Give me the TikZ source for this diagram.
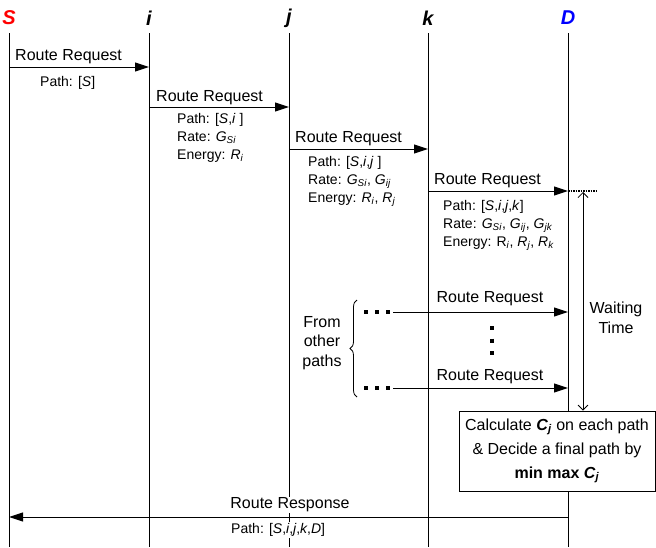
\documentclass[tikz,border=0pt]{standalone}
\usepackage{fontspec}
\setmainfont{Liberation Sans}
\usetikzlibrary{arrows.meta,decorations.pathreplacing}
\newcommand{\subit}[1]{\textsubscript{\textit{#1}}}
\newcommand{\subbf}[1]{\textsubscript{\textbf{\textit{#1}}}}

\begin{document}
\begin{tikzpicture}[x=1pt,y=-1pt,
    head/.style={font=\fontsize{20}{24}\selectfont\bfseries\itshape},
    life/.style={line width=0.8pt},
    msg/.style={line width=1pt,-{Triangle[length=14pt,width=9pt]}},
    wait/.style={line width=0.8pt,{Straight Barb[length=5pt,width=10pt]}-{Straight Barb[length=5pt,width=10pt]}},
    sqdots/.style={line width=4pt,dash pattern=on 4pt off 7pt},
    lbl/.style={font=\fontsize{16}{20}\selectfont,inner sep=0pt},
    info/.style={font=\fontsize{14}{18}\selectfont,inner sep=0pt,align=left,anchor=north west}]
\useasboundingbox (0,0) rectangle (656,547);
\foreach \n/\x/\c in {S/9/red,i/149/black,j/289/black,k/428/black,D/568/blue}{
    \node[head,text=\c] (\n) at (\x,18) {\n};
    \coordinate (\n top) at (\x,33);
    \coordinate (\n bot) at (\x,547);
    \draw[life] (\n top) -- (\n bot);
}
\coordinate (S1) at (9,67);
\coordinate (i1) at (149,67);
\coordinate (i2) at (149,107);
\coordinate (j2) at (289,107);
\coordinate (j3) at (289,149);
\coordinate (k3) at (428,149);
\coordinate (k4) at (428,191);
\coordinate (D4) at (568,191);
\draw[msg] (S1) -- (i1);
\draw[msg] (i2) -- (j2);
\draw[msg] (j3) -- (k3);
\draw[msg] (k4) -- (D4);
\node[lbl,anchor=west] (rr1) at (15,57) {Route Request};
\node[lbl,anchor=west] (rr2) at (156,98) {Route Request};
\node[lbl,anchor=west] (rr3) at (295,139) {Route Request};
\node[lbl,anchor=west] (rr4) at (434,181) {Route Request};
\node[info,anchor=west] (info1) at (40,83) {Path: [\textit{S}]};
\node[info] (info2) at (177,113) {Path: [\textit{S},\textit{i} ]\\Rate: \textit{G}\subit{Si}\\Energy: \textit{R}\subit{i}};
\node[info] (info3) at (308,156) {Path: [\textit{S},\textit{i},\textit{j} ]\\Rate: \textit{G}\subit{Si}, \textit{G}\subit{ij}\\Energy: \textit{R}\subit{i}, \textit{R}\subit{j}};
\node[info] (info4) at (443,200) {Path: [\textit{S},\textit{i},\textit{j},\textit{k}]\\Rate: \textit{G}\subit{Si}, \textit{G}\subit{ij}, \textit{G}\subit{jk}\\Energy: R\subit{i}, \textit{R}\subit{j}, \textit{R}\subit{k}};
\coordinate (dend) at (598,191);
\draw[line width=1.5pt,densely dotted] (D4) -- (dend);

\node[draw,fill=white,line width=0.8pt,minimum width=196pt,minimum height=80pt,align=center,font=\fontsize{16}{24}\selectfont] (calc) at (557,451)
    {Calculate \textbf{\textit{C}\subbf{j}} on each path\\\& Decide a final path by\\\textbf{min max \textit{C}\subbf{j}}};
\coordinate (wtop) at (583,192);
\draw[wait] (wtop) -- (wtop |- calc.north);
\node[lbl,align=center] (wtime) at (616,318) {Waiting\\Time};

\coordinate (o1s) at (364,312);
\coordinate (o1) at (393,312);
\coordinate (D5) at (568,312);
\coordinate (o2s) at (364,388);
\coordinate (o2) at (393,388);
\coordinate (D6) at (568,388);
\draw[sqdots] (o1s) -- (o1);
\draw[sqdots] (o2s) -- (o2);
\draw[msg] (o1) -- (D5);
\draw[msg] (o2) -- (D6);
\node[lbl] (rr5) at (490,299) {Route Request};
\node[lbl] (rr6) at (490,377) {Route Request};
\coordinate (vd1) at (492,326);
\coordinate (vd2) at (492,356);
\draw[line width=4pt,dash pattern=on 4pt off 8.5pt] (vd1) -- (vd2);
\coordinate (br1) at (357,397);
\coordinate (br2) at (357,300);
\draw[line width=0.8pt,decorate,decoration={brace,amplitude=7pt}] (br1) -- (br2);
\node[lbl,align=center,font=\fontsize{16}{19.5}\selectfont] (other) at (322,343) {From\\other\\paths};

\coordinate (D7) at (568,517);
\coordinate (S7) at (9,517);
\draw[msg] (D7) -- (S7);
\node[lbl,fill=white,inner sep=1pt] (rresp) at (290,505) {Route Response};
\node[info,fill=white,inner sep=1pt,anchor=west] (info7) at (230,530) {Path: [\textit{S},\textit{i},\textit{j},\textit{k},\textit{D}]};
\end{tikzpicture}
\end{document}
